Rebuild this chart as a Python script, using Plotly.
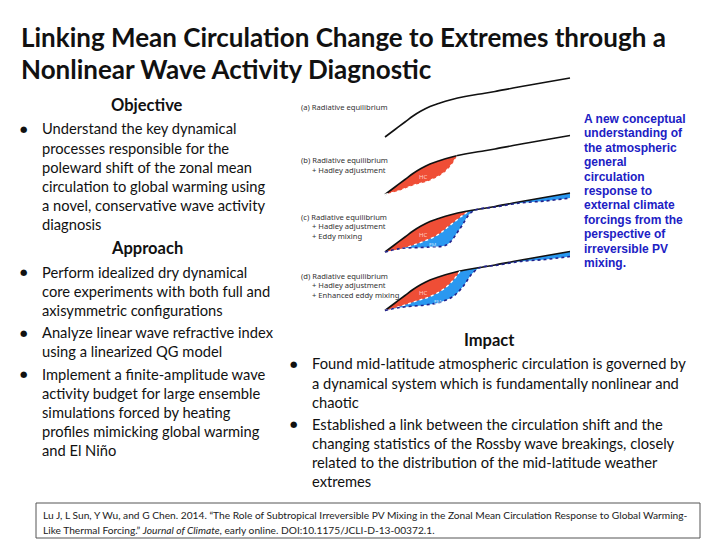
import numpy as np
import plotly.graph_objects as go

# page body adds an 8px margin, so the figure is drawn offset by (OX, OY)
OX, OY = 8, 8
W, H = 720 - OX, 540 - OY

# ---------------- text content ----------------
title_lines = ["Linking Mean Circulation Change to Extremes through a",
               "Nonlinear Wave Activity Diagnostic"]
objective_head = "Objective"
objective_bullets = [["Understand the key dynamical",
                      "processes responsible for the",
                      "poleward shift of the zonal mean",
                      "circulation to global warming using",
                      "a novel, conservative wave activity",
                      "diagnosis"]]
approach_head = "Approach"
approach_bullets = [["Perform idealized dry dynamical",
                     "core experiments with both full and",
                     "axisymmetric configurations"],
                    ["Analyze linear wave refractive index",
                     "using a linearized QG model"],
                    ["Implement a finite-amplitude wave",
                     "activity budget for large ensemble",
                     "simulations forced by heating",
                     "profiles mimicking global warming",
                     "and El Niño"]]
impact_head = "Impact"
impact_bullets = [["Found mid-latitude atmospheric circulation is governed by",
                   "a dynamical system which is fundamentally nonlinear and",
                   "chaotic"],
                  ["Established a link between the circulation shift and the",
                   "changing statistics of the Rossby wave breakings, closely",
                   "related to the distribution of the mid-latitude weather",
                   "extremes"]]
blue_lines = ["A new conceptual", "understanding of", "the atmospheric", "general",
              "circulation", "response to", "external climate", "forcings from the",
              "perspective of", "irreversible PV", "mixing."]
panel_labels = [["(a) Radiative equilibrium"],
                ["(b) Radiative equilibrium", "+ Hadley adjustment"],
                ["(c) Radiative equilibrium", "+ Hadley adjustment", "+ Eddy mixing"],
                ["(d) Radiative equilibrium", "+ Hadley adjustment", "+ Enhanced eddy mixing"]]
reference_lines = ["Lu J, L Sun, Y Wu, and G Chen. 2014. \u201cThe Role of Subtropical Irreversible PV Mixing in the Zonal Mean Circulation Response to Global Warming-",
                   "Like Thermal Forcing.\u201d <i>Journal of Climate</i>, early online. DOI:10.1175/JCLI-D-13-00372.1."]

# ---------------- diagram data (schematic profiles vs latitude) ----------------
lat_top = [0, 10, 20, 28, 36, 45, 55, 65, 80, 95, 110, 128, 145, 162, 185]
re_profile = [0, 7.5, 15, 21, 26, 30.5, 34, 37, 40.5, 43, 45.5, 49, 52, 55, 59]

lat_hc_b = [0, 15, 28, 45, 58, 66, 72]
hc_lower_b = [0, 4, 9, 14, 21, 29, 38.6]

lat_hc_c = [0, 15, 28, 52, 65, 78, 85]
hc_lower_c = [0, 3, 6.7, 16.7, 26.7, 36.7, 41.3]

lat_hc_d = [0, 15, 30, 45, 58, 68, 75]
hc_lower_d = [0, 4, 9, 14, 21, 30, 39.3]

lat_em_c = [0, 15, 45, 62, 75, 85, 92, 110, 135, 160, 185]
em_lower_c = [0, 3.4, 5, 7.4, 23.4, 38.4, 42.5, 45, 49, 51, 54]

lat_em_d = [0, 15, 40, 55, 68, 78, 87, 95, 110, 135, 160, 185]
em_lower_d = [0, 3, 5.5, 8.3, 14, 24, 36.7, 43, 45, 49, 51, 54]

# ---------------- styles ----------------
BODY = "Lato"
RED = "#EF4E36"
BLUE = "#2A98F0"
NAVY = "#22228C"
BLUE_TXT = "#2020C4"
panel_offsets = [183, 125.5, 68, 9.5]

fig = go.Figure()


def top_segment(xm):
    xs = [x for x in lat_top if x < xm] + [xm]
    ys = [y for x, y in zip(lat_top, re_profile) if x < xm] + [float(np.interp(xm, lat_top, re_profile))]
    return xs, ys


def add_fill(lx, ly, ux, uy, off, color):
    fig.add_trace(go.Scatter(x=lx, y=[v + off for v in ly], mode="lines",
                             line=dict(width=0, shape="spline", color=color), hoverinfo="skip"))
    fig.add_trace(go.Scatter(x=ux, y=[v + off for v in uy], mode="lines", fill="tonexty",
                             fillcolor=color, line=dict(width=0, shape="spline", color=color),
                             hoverinfo="skip"))


def add_line(x, y, off, color, width, dash="solid"):
    fig.add_trace(go.Scatter(x=x, y=[v + off for v in y], mode="lines",
                             line=dict(width=width, shape="spline", color=color, dash=dash),
                             hoverinfo="skip"))


hc_sets = [None, (lat_hc_b, hc_lower_b), (lat_hc_c, hc_lower_c), (lat_hc_d, hc_lower_d)]
em_sets = [None, None, (lat_em_c, em_lower_c), (lat_em_d, em_lower_d)]

for i, off in enumerate(panel_offsets):
    em = em_sets[i]
    hc = hc_sets[i]
    if em is not None:
        add_fill(em[0], em[1], lat_top, re_profile, off, BLUE)
    if hc is not None:
        ux, uy = top_segment(hc[0][-1])
        add_fill(hc[0], hc[1], ux, uy, off, RED)
    add_line(lat_top, re_profile, off, "#111111", 1.6)
    if hc is not None:
        add_line(hc[0], hc[1], off, "white", 1.3, "dot")
    if em is not None:
        add_line(em[0], em[1], off, NAVY, 1.6, "dot")

annotations = []

# small labels inside the diagram
for i, off in enumerate(panel_offsets):
    if hc_sets[i] is not None:
        annotations.append(dict(x=38, y=off + 17.5, xref="x", yref="y", text="HC", showarrow=False,
                                font=dict(family="Noto Sans", size=6, color="#FFD0C8")))
    if em_sets[i] is not None:
        annotations.append(dict(x=48 if i == 2 else 53, y=off + (6.7 if i == 2 else 8.5), xref="x", yref="y",
                                text="EM", showarrow=False,
                                font=dict(family="Noto Sans", size=5, color="#BFE2FF")))


def txt(x, y, s, size, color="#111111", family=BODY, anchor="left", bold=False):
    xx = x - OX - (1.5 if anchor == "left" else 0)
    yy = y - OY
    annotations.append(dict(x=xx / W, y=1 - yy / H, xref="paper", yref="paper",
                            text=("<b>%s</b>" % s) if bold else s, showarrow=False,
                            xanchor=anchor, yanchor="middle",
                            font=dict(family=family, size=size, color=color)))


# title
for k, line in enumerate(title_lines):
    txt(20, 36.5 + 32.5 * k, line, 26, bold=True)

BODY_SIZE = 14.7
HEAD_SIZE = 16.5
LH = 19.2


def bullet_block(blocks, x_b, x_t, y0, gap=3.0):
    y = y0
    for lines in blocks:
        txt(x_b, y + 0.5, "\u25CF", 8.5, family="DejaVu Sans", anchor="center")
        for line in lines:
            txt(x_t, y, line, BODY_SIZE)
            y += LH
        y += gap
    return y


txt(147, 105, objective_head, HEAD_SIZE, anchor="center", bold=True)
bullet_block(objective_bullets, 23.3, 41.7, 128.5)
txt(147, 247.5, approach_head, HEAD_SIZE, anchor="center", bold=True)
bullet_block(approach_bullets, 23.3, 41.7, 271.7)

txt(489, 340, impact_head, HEAD_SIZE, anchor="center", bold=True)
bullet_block(impact_bullets, 293, 311.7, 363.3)

for k, line in enumerate(blue_lines):
    txt(583.3, 119 + 14.4 * k, line, 12, color=BLUE_TXT, family="Liberation Sans", bold=True)

label_rows = [[106.7], [160, 170], [216.7, 226, 235.7], [276, 285.3, 295]]
for labels, rows in zip(panel_labels, label_rows):
    for j, (s, yy) in enumerate(zip(labels, rows)):
        txt(300.7 if j == 0 else 311.7, yy, s, 7.6, color="#333333", family="Noto Sans")

for k, line in enumerate(reference_lines):
    txt(42, 515 + 14.5 * k, line, 10.2, color="#222222")

shapes = [dict(type="rect", xref="paper", yref="paper", x0=(36 - OX) / W, x1=(700 - OX) / W,
               y0=1 - (538 - OY) / H, y1=1 - (503 - OY) / H, line=dict(color="#555555", width=1))]

fig.update_layout(
    width=W, height=H, margin=dict(l=0, r=0, t=0, b=0),
    paper_bgcolor="white", plot_bgcolor="rgba(0,0,0,0)", showlegend=False,
    xaxis=dict(domain=[(380 - OX) / W, (575 - OX) / W], range=[-5, 190], visible=False, fixedrange=True),
    yaxis=dict(domain=[1 - (325 - OY) / H, 1 - (60 - OY) / H], range=[-5, 260], visible=False, fixedrange=True),
    annotations=annotations, shapes=shapes,
)

fig.write_html("out.html")
